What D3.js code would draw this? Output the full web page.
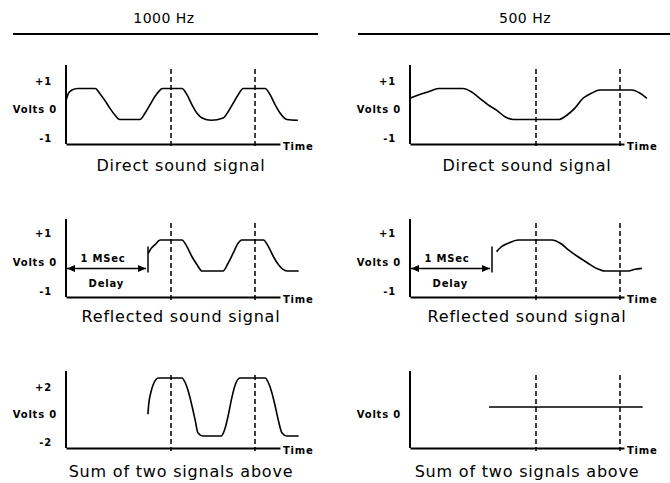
<!DOCTYPE html>
<meta charset="utf-8">
<html>
<head>
  <script src="https://d3js.org/d3.v7.min.js"></script>
  <style>
    body { margin: 0; background: #fff; }
    text { font-family: 'DejaVu Sans', sans-serif; fill: #000; }
    .head { font-size: 14px; letter-spacing: 0.5px; }
    .title { font-size: 16px; letter-spacing: 0.8px; }
    .tick text, .small { font-size: 10px; font-weight: bold; letter-spacing: 0.8px; }
    .x-axis path { stroke: #000; stroke-width: 2; }
    .y-line, .rule { stroke: #000; stroke-width: 2; }
    .wave { fill: none; stroke: #000; stroke-width: 1.6; stroke-linejoin: round; }
    .mark { stroke: #000; stroke-width: 1.5; stroke-dasharray: 5 3; }
    .delay { stroke: #000; stroke-width: 1.5; }
  </style>
</head>
<body>
<script>
// column / row labels
var hzLabels = ['1000 Hz', '500 Hz'];
var rowTitles = ['Direct sound signal', 'Reflected sound signal', 'Sum of two signals above'];
var delayText = ['1 MSec', 'Delay'];
var timeText = 'Time';
var delayMs = 1;
// dashed reference lines (ms) for each column
var markerMs = [[1.25, 2.25], [1.5, 2.5]];
// tick values
var unitTicks = [1, 0, -1];
var doubleTicks = [2, 0, -2];
var zeroTicks = [0];

// waveforms, [time in ms, volts]
var direct1000 = [[0, 0.2], [0.03, 0.7], [0.07, 0.9], [0.14, 1], [0.35, 1], [0.40, 0.7], [0.46, 0.25],
  [0.52, -0.25], [0.58, -0.7], [0.64, -1], [0.88, -1], [0.94, -0.6], [1.0, -0.05], [1.06, 0.5],
  [1.12, 0.9], [1.15, 1], [1.38, 1], [1.44, 0.6], [1.5, -0.05], [1.56, -0.6], [1.62, -0.9],
  [1.73, -1.05], [1.87, -0.9], [1.93, -0.5], [1.99, 0.05], [2.05, 0.6], [2.11, 1], [2.37, 1],
  [2.43, 0.6], [2.49, -0.05], [2.55, -0.6], [2.63, -1], [2.76, -1.05]];
var reflected1000 = [[0.98, 0.15], [1.0, 0.35], [1.06, 0.7], [1.12, 1], [1.38, 1], [1.44, 0.57],
  [1.5, -0.08], [1.56, -0.6], [1.62, -1], [1.87, -1], [1.93, -0.5], [1.99, 0.15], [2.05, 0.8],
  [2.09, 1], [2.35, 1], [2.41, 0.57], [2.47, -0.08], [2.53, -0.6], [2.63, -1], [2.77, -1]];
var sum1000 = [[0.975, -0.5], [0.985, 0.2], [1.01, 1.0], [1.04, 1.57], [1.1, 2], [1.38, 2],
  [1.42, 1.67], [1.46, 1.0], [1.5, 0.07], [1.54, -0.97], [1.57, -1.77], [1.63, -2], [1.85, -2],
  [1.89, -1.54], [1.93, -0.62], [1.97, 0.53], [2.01, 1.45], [2.07, 2], [2.37, 2], [2.41, 1.67],
  [2.45, 1.0], [2.49, 0.07], [2.53, -0.97], [2.57, -1.77], [2.63, -2], [2.77, -2]];
var direct500 = [[0, 0.37], [0.1, 0.58], [0.22, 0.79], [0.34, 1], [0.63, 1], [0.73, 0.79],
  [0.83, 0.37], [0.93, -0.06], [1.03, -0.39], [1.13, -0.82], [1.23, -1], [1.77, -1], [1.87, -0.71],
  [1.96, -0.28], [2.06, 0.37], [2.16, 0.69], [2.26, 0.9], [2.64, 0.9], [2.74, 0.69], [2.82, 0.37]];
var reflected500 = [[1.03, 0.25], [1.09, 0.57], [1.17, 0.79], [1.29, 1], [1.69, 1], [1.79, 0.79],
  [1.89, 0.35], [2.0, -0.08], [2.12, -0.5], [2.22, -0.83], [2.32, -1], [2.6, -1], [2.68, -0.89],
  [2.76, -0.83]];
var sum500 = [[0.94, 0], [2.77, 0]];

var panels = [
  { row: 0, col: 0, wave: direct1000, vmax: 1, ticks: unitTicks },
  { row: 0, col: 1, wave: direct500, vmax: 1, ticks: unitTicks },
  { row: 1, col: 0, wave: reflected1000, vmax: 1, ticks: unitTicks, delay: true },
  { row: 1, col: 1, wave: reflected500, vmax: 1, ticks: unitTicks, delay: true },
  { row: 2, col: 0, wave: sum1000, vmax: 2, ticks: doubleTicks },
  { row: 2, col: 1, wave: sum500, vmax: 1, ticks: zeroTicks }
];

// layout
var W = 670, H = 483;
var colX = [66, 410], colTitleX = [181, 527], colHeadX = [164, 525];
var headLine = [[13, 318], [358, 670]];
var axisLen = 214, pxPerMs = 84;
var rowAxisY = [144, 297, 448], rowTop = [65, 219, 371], rowZero = [104, 255.5, 407];
var rowHalf = [15.5, 15.5, 29], rowLabelTop = [81, 233, 387], rowTitleY = [171, 322, 477];

var svg = d3.select('body').append('svg')
  .attr('width', W).attr('height', H);

svg.append('defs').append('marker')
  .attr('id', 'ah')
  .attr('viewBox', '0 -4 8 8')
  .attr('refX', 8).attr('refY', 0)
  .attr('markerWidth', 8).attr('markerHeight', 8)
  .attr('markerUnits', 'userSpaceOnUse')
  .attr('orient', 'auto-start-reverse')
  .append('path').attr('d', 'M0,-3.5L8,0L0,3.5Z');

// column headers
hzLabels.forEach(function (h, c) {
  svg.append('text').attr('class', 'head')
    .attr('x', colHeadX[c]).attr('y', 23)
    .attr('text-anchor', 'middle').text(h);
  svg.append('line').attr('class', 'rule')
    .attr('x1', headLine[c][0]).attr('x2', headLine[c][1])
    .attr('y1', 34).attr('y2', 34);
});

panels.forEach(function (p) {
  var r = p.row, c = p.col;
  var x0 = colX[c], ay = rowAxisY[r], zero = rowZero[r];

  var x = d3.scaleLinear().domain([0, axisLen / pxPerMs]).range([x0, x0 + axisLen]);
  var y = d3.scaleLinear().domain([-p.vmax, p.vmax]).range([zero + rowHalf[r], zero - rowHalf[r]]);
  var yLab = d3.scaleLinear().domain([-p.vmax, p.vmax]).range([ay - 6, rowLabelTop[r]]);

  var g = svg.append('g');

  // dashed time markers
  g.selectAll('.mark').data(markerMs[c]).enter().append('line')
    .attr('class', 'mark')
    .attr('x1', d => x(d)).attr('x2', d => x(d))
    .attr('y1', rowTop[r] + 4).attr('y2', ay + 3);

  // axes
  g.append('line').attr('class', 'y-line')
    .attr('x1', x0).attr('x2', x0).attr('y1', rowTop[r]).attr('y2', ay);
  g.append('g').attr('class', 'x-axis')
    .attr('transform', `translate(0, ${ay})`)
    .call(d3.axisBottom(x).tickValues([]).tickSizeOuter(0));

  g.append('text').attr('class', 'small')
    .attr('x', x0 + axisLen + 3).attr('y', ay + 5.5).text(timeText);

  var yl = g.append('g').attr('class', 'y-labels')
    .attr('transform', `translate(${x0}, 0)`)
    .call(d3.axisLeft(yLab).tickValues(p.ticks).tickSize(0)
      .tickFormat(v => v === 0 ? 'Volts 0' : (v > 0 ? '+' : '-') + Math.abs(v)));
  yl.select('.domain').remove();
  yl.selectAll('text').attr('x', d => d === 0 ? -9 : -14);

  // delay arrow
  if (p.delay) {
    g.append('line').attr('class', 'delay')
      .attr('x1', x(0) + 1).attr('x2', x(delayMs) - 4)
      .attr('y1', zero + 13).attr('y2', zero + 13)
      .attr('marker-start', 'url(#ah)').attr('marker-end', 'url(#ah)');
    g.append('line').attr('class', 'delay')
      .attr('x1', x(delayMs) - 2).attr('x2', x(delayMs) - 2)
      .attr('y1', zero - 9).attr('y2', zero + 17);
    g.append('text').attr('class', 'small')
      .attr('x', x(0.44)).attr('y', zero + 6.5)
      .attr('text-anchor', 'middle').text(delayText[0]);
    g.append('text').attr('class', 'small')
      .attr('x', x(0.48)).attr('y', zero + 31)
      .attr('text-anchor', 'middle').text(delayText[1]);
  }

  // waveform
  g.append('path').attr('class', 'wave')
    .datum(p.wave)
    .attr('d', d3.line()
      .x(d => x(d[0]))
      .y(d => y(d[1]))
      .curve(d3.curveMonotoneX));

  // title
  g.append('text').attr('class', 'title')
    .attr('x', colTitleX[c]).attr('y', rowTitleY[r])
    .attr('text-anchor', 'middle').text(rowTitles[r]);
});
</script>
</body>
</html>
